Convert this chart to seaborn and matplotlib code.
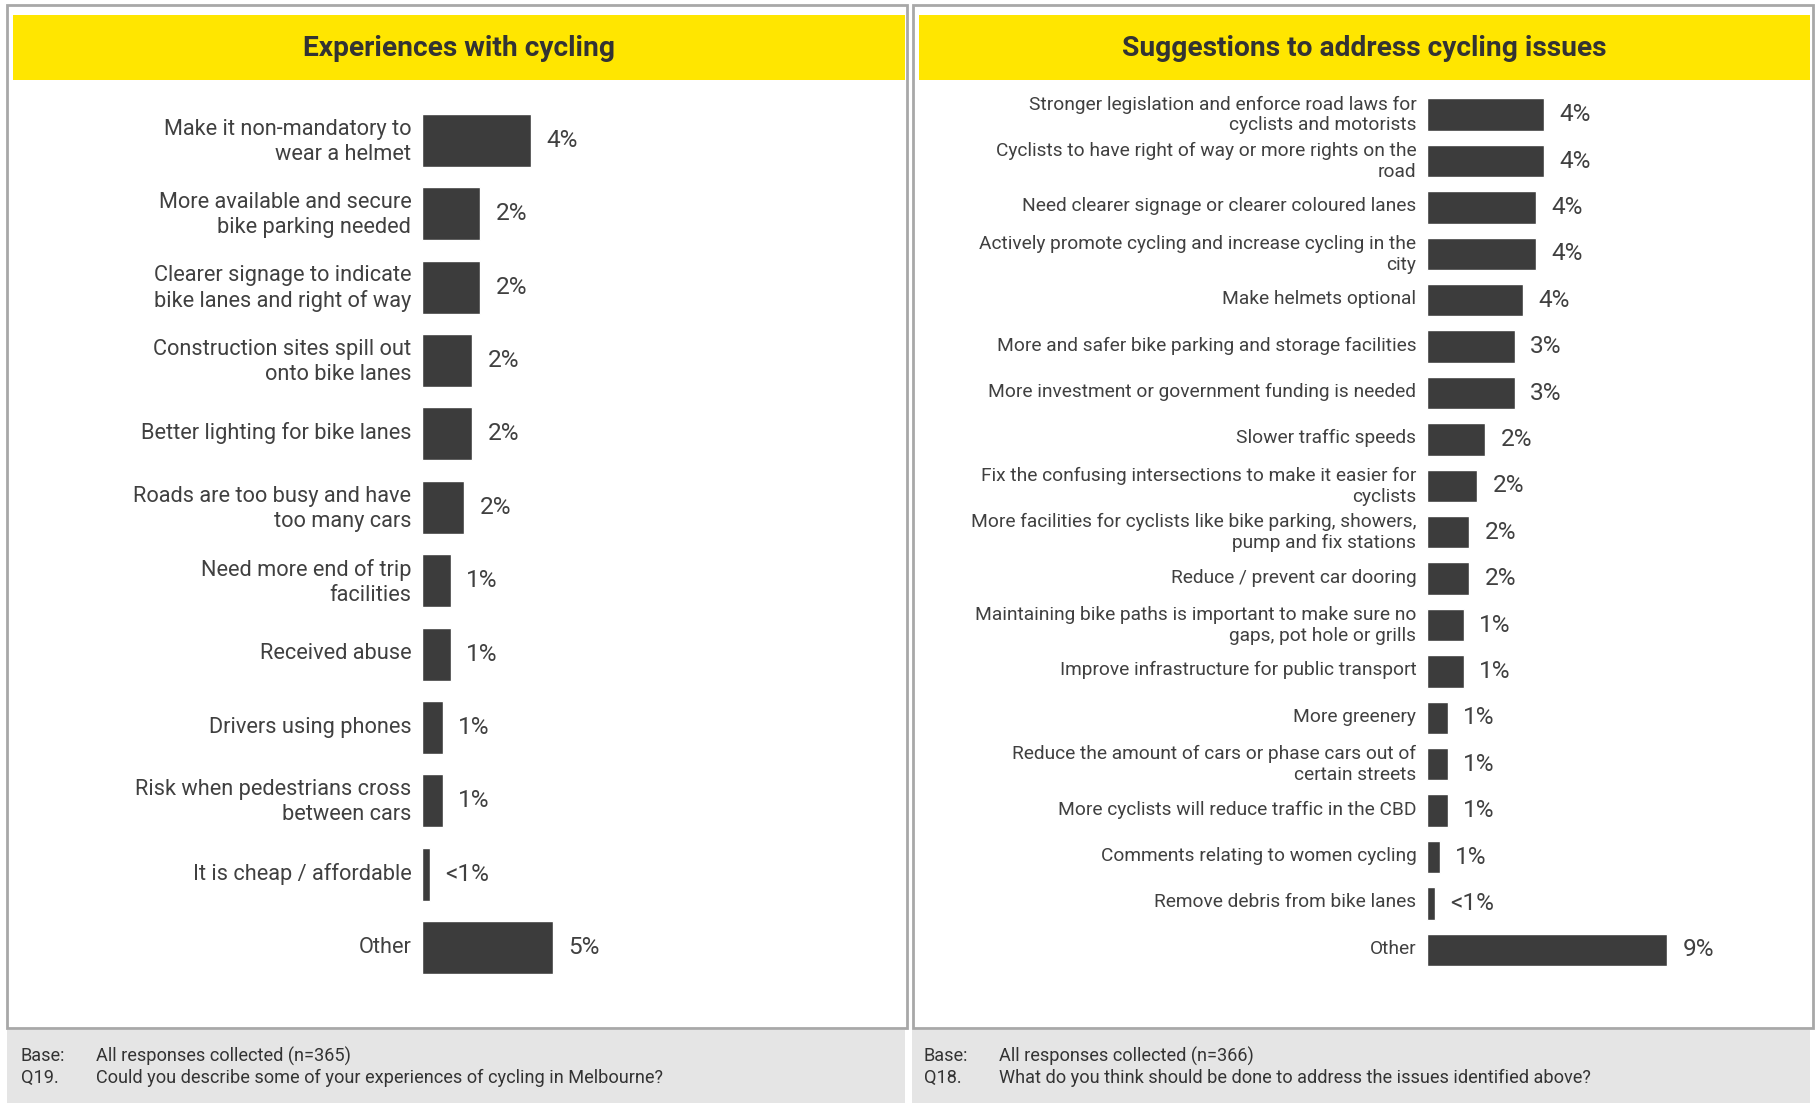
import matplotlib
matplotlib.use("Agg")
import matplotlib.pyplot as plt
import matplotlib.transforms as mtransforms
from matplotlib.patches import Rectangle
import seaborn as sns

# Left panel: experiences with cycling (% of n=365)
exp_labels = [
    "Make it non-mandatory to\nwear a helmet",
    "More available and secure\nbike parking needed",
    "Clearer signage to indicate\nbike lanes and right of way",
    "Construction sites spill out\nonto bike lanes",
    "Better lighting for bike lanes",
    "Roads are too busy and have\ntoo many cars",
    "Need more end of trip\nfacilities",
    "Received abuse",
    "Drivers using phones",
    "Risk when pedestrians cross\nbetween cars",
    "It is cheap / affordable",
    "Other",
]
exp_values = [4.1, 2.2, 2.2, 1.9, 1.9, 1.6, 1.1, 1.1, 0.8, 0.8, 0.3, 4.9]
exp_text = ["4%", "2%", "2%", "2%", "2%", "2%", "1%", "1%", "1%", "1%", "<1%", "5%"]

# Right panel: suggestions (% of n=366)
sug_labels = [
    "Stronger legislation and enforce road laws for\ncyclists and motorists",
    "Cyclists to have right of way or more rights on the\nroad",
    "Need clearer signage or clearer coloured lanes",
    "Actively promote cycling and increase cycling in the\ncity",
    "Make helmets optional",
    "More and safer bike parking and storage facilities",
    "More investment or government funding is needed",
    "Slower traffic speeds",
    "Fix the confusing intersections to make it easier for\ncyclists",
    "More facilities for cyclists like bike parking, showers,\npump and fix stations",
    "Reduce / prevent car dooring",
    "Maintaining bike paths is important to make sure no\ngaps, pot hole or grills",
    "Improve infrastructure for public transport",
    "More greenery",
    "Reduce the amount of cars or phase cars out of\ncertain streets",
    "More cyclists will reduce traffic in the CBD",
    "Comments relating to women cycling",
    "Remove debris from bike lanes",
    "Other",
]
sug_values = [4.4, 4.4, 4.1, 4.1, 3.6, 3.3, 3.3, 2.2, 1.9, 1.6, 1.6, 1.4, 1.4,
              0.8, 0.8, 0.8, 0.5, 0.3, 9.0]
sug_text = ["4%", "4%", "4%", "4%", "4%", "3%", "3%", "2%", "2%", "2%", "2%",
            "1%", "1%", "1%", "1%", "1%", "1%", "<1%", "9%"]

titles = ["Experiences with cycling", "Suggestions to address cycling issues"]
footers = [
    ("Base:", "All responses collected (n=365)",
     "Q19.", "Could you describe some of your experiences of cycling in Melbourne?"),
    ("Base:", "All responses collected (n=366)",
     "Q18.", "What do you think should be done to address the issues identified above?"),
]

YELLOW = "#FFE600"
BAR = "#3C3C3C"
TEXT = "#404040"
BORDER = "#A8A8A8"
FOOT = "#E5E5E5"

sns.set_theme(style="white")
plt.rcParams["font.family"] = ["Roboto", "DejaVu Sans"]

W, H = 1816, 1103
fig = plt.figure(figsize=(W / 100, H / 100), dpi=100)
renderer = fig.canvas.get_renderer()


def fit(txt, target_px, **kw):
    # font size that makes txt span target_px
    t = fig.text(0, 0, txt, fontsize=20, **kw)
    w = t.get_window_extent(renderer).width
    t.remove()
    return 20 * target_px / w


def box(x0, y0, x1, y1, **kw):
    fig.patches.append(Rectangle((x0 / W, 1 - y1 / H), (x1 - x0) / W, (y1 - y0) / H,
                                 transform=fig.transFigure, **kw))


def ftext(x, y, s, **kw):
    fig.text(x / W, 1 - y / H, s, **kw)


left_fs = fit("Make it non-mandatory to", 248)
right_fs = fit("Stronger legislation and enforce road laws for", 386)
title_fs = fit("Experiences with cycling", 312, weight="bold")
foot_fs = (fit("All responses collected (n=365)", 262)
           + fit("Could you describe some of your experiences of cycling in Melbourne?", 549)) / 2
pct_fs = fit("<1%", 44)

# panel frames, headers, footers
for x0, x1 in [(7, 907), (913, 1813)]:
    box(x0, 5, x1, 1028, fill=False, edgecolor=BORDER, linewidth=2)
for x0, x1 in [(13, 905), (919, 1810)]:
    box(x0, 15, x1, 80, color=YELLOW, linewidth=0)
for x0, x1 in [(7, 905), (912, 1810)]:
    box(x0, 1030, x1, 1103, color=FOOT, linewidth=0)

for cx, t in zip([459, 1364], titles):
    ftext(cx, 48, t, ha="center", va="center", fontsize=title_fs,
          weight="bold", color="#333333")

for x0, (b, bt, q, qt) in zip([21, 924], footers):
    ftext(x0, 1056, b, va="center", fontsize=foot_fs, color="#333333")
    ftext(x0 + 75, 1056, bt, va="center", fontsize=foot_fs, color="#333333")
    ftext(x0, 1078, q, va="center", fontsize=foot_fs, color="#333333")
    ftext(x0 + 75, 1078, qt, va="center", fontsize=foot_fs, color="#333333")

PX_PER_PCT = 26.7
lift = mtransforms.ScaledTranslation(0, 3 / 100, fig.dpi_scale_trans)
panels = [
    # labels, values, texts, bar x0, first centre, step, width px, fontsize, bar width, linespacing
    (exp_labels, exp_values, exp_text, 421.7, 140.3, 73.4, 470, left_fs, 0.72, 1.25),
    (sug_labels, sug_values, sug_text, 1426.7, 114.6, 46.4, 380, right_fs, 0.70, 1.2),
]

for labels, values, texts, x0, c0, step, wpx, fs, bw, ls in panels:
    n = len(labels)
    top = c0 - step / 2
    ax = fig.add_axes([x0 / W, 1 - (top + n * step) / H, wpx / W, n * step / H])
    sns.barplot(x=values, y=labels, orient="h", color=BAR, saturation=1,
                width=bw, ax=ax)
    ax.set_xlim(0, wpx / PX_PER_PCT)
    ax.set_ylim(n - 0.5, -0.5)
    ax.bar_label(ax.containers[0], labels=texts, padding=11, fontsize=pct_fs,
                 color=TEXT)
    ax.set_xticks([])
    ax.tick_params(axis="y", length=0, pad=7.5, labelsize=fs, labelcolor=TEXT)
    for lab in ax.get_yticklabels():
        lab.set_linespacing(ls)
        lab.set_transform(lab.get_transform() + lift)
    ax.set_xlabel("")
    ax.set_ylabel("")
    sns.despine(ax=ax, left=True, bottom=True)
    ax.patch.set_alpha(0)

fig.savefig("out.png", dpi=100, facecolor="white")
